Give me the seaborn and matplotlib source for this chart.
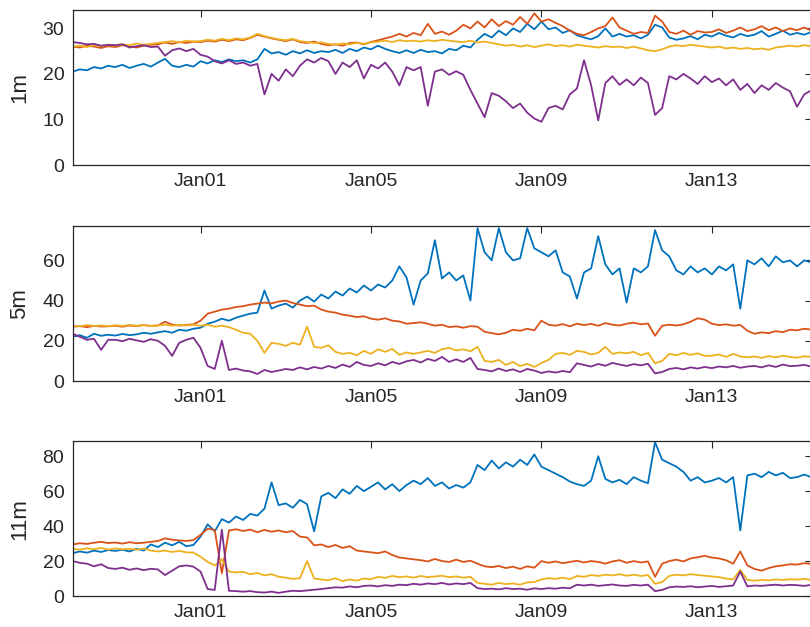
import pandas as pd
import numpy as np
import matplotlib
matplotlib.use('Agg')
import matplotlib.pyplot as plt
import matplotlib.dates as mdates
import seaborn as sns

# time axis: 4-hourly readings starting Dec 29
times = pd.date_range('2019-12-29 00:00', periods=105, freq='4h')

# ---- 1m depth ----
blue_1m = [20.5, 21, 20.8, 21.5, 21.2, 21.8, 21.5, 22, 21.3, 21.8, 22.2, 21.6,
           22.5, 23.3, 21.8, 21.5, 22, 21.6, 22.8, 22.3, 23, 22.6, 23.2, 22.8,
           23, 22.5, 23.2, 25.5, 24.5, 24.8, 24.2, 25, 24.5, 25.2, 24.6, 25,
           24.8, 25.3, 24.6, 25.5, 25, 25.8, 25.4, 26.2, 25.5, 25, 24.6, 25.2,
           24.6, 25.3, 24.8, 25, 24.5, 25.5, 25.2, 26.2, 25.8, 27.5, 28.8, 28,
           29.5, 28.5, 30, 29.2, 31, 29.8, 31.5, 29.8, 30.2, 29, 29.6, 28.5,
           28, 27.6, 28.3, 30, 28.2, 28.8, 28.2, 28.5, 27.8, 28.6, 30.8, 30.2,
           28, 27.5, 27.8, 28.3, 27.6, 28.6, 28.2, 29, 28.4, 28, 28.8, 28.3,
           28.6, 29.4, 28.2, 28.8, 29.5, 28.6, 29, 28.6, 29.2]
orange_1m = [26, 25.8, 26.2, 26, 25.7, 26.1, 25.9, 26.3, 26.1, 25.8, 26.2, 26.4,
             26.5, 26.9, 26.6, 27, 26.8, 27.1, 27, 27.3, 27.1, 27.5, 27.2, 27.6,
             27.4, 27.9, 28.6, 28.2, 27.8, 27.5, 27.2, 27.6, 27, 26.8, 27.1, 26.6,
             26.3, 26.5, 26.2, 26.8, 26.9, 26.5, 27, 27.4, 27.8, 28.2, 28.8, 28.2,
             29, 28.5, 31, 28.8, 29.3, 28.6, 29.5, 30.8, 30, 31.5, 30.2, 32,
             30.5, 31.6, 30.8, 32.5, 31, 33.3, 31.5, 32, 31.2, 30.5, 29.5, 28.8,
             28.5, 29.2, 30, 30.5, 32.4, 30.2, 29.5, 28.8, 29.2, 29, 32.8, 31.5,
             29.2, 28.8, 29.5, 28.6, 29.4, 29.1, 29.2, 29.8, 29, 29.5, 30.2, 29.4,
             29.8, 30.5, 29.6, 30.2, 29.4, 30, 29.6, 30.2, 29.5]
yellow_1m = [26, 26.2, 25.9, 26.3, 26.1, 26.4, 26.2, 26.5, 26.3, 26.7, 26.4, 26.6,
             26.8, 27, 27.2, 26.9, 27.3, 27.1, 27.2, 27.5, 27.3, 27.7, 27.4, 27.8,
             27.6, 28, 28.8, 28.3, 27.9, 27.6, 27.4, 27.7, 27.2, 27, 26.8, 26.9,
             26.6, 26.4, 26.7, 26.5, 26.8, 26.6, 26.9, 27.1, 27.3, 27, 27.4, 27.2,
             27.3, 27.1, 27.4, 27.2, 27.5, 27.3, 27.1, 27, 27.3, 26.9, 27.1, 26.8,
             26.5, 26.2, 26.4, 26, 26.3, 25.9, 26.2, 26.5, 26.1, 26.3, 26, 26.4,
             26.2, 26, 25.8, 26.1, 25.9, 26, 25.7, 26, 25.6, 25.2, 25, 25.4,
             26, 26.3, 26.1, 26.4, 26.2, 26, 25.8, 26, 25.6, 25.8, 25.5, 25.7,
             25.4, 25.6, 25.3, 25.8, 26, 26.2, 26, 26.3, 26.1]
purple_1m = [27, 26.8, 26.5, 26.6, 26.2, 26.4, 26.3, 26.5, 25.8, 26.1, 26.3, 25.9,
             26, 24, 25.2, 25.6, 25, 25.5, 24.2, 23.8, 22.8, 22.3, 23, 22.2,
             22.5, 21.8, 22.2, 15.5, 20, 18.5, 21, 19.5, 21.8, 23.2, 22.5, 23.5,
             22.8, 20, 22.5, 21.5, 23, 19, 22, 21.2, 22.5, 20.5, 17.5, 21.5,
             20.8, 21.5, 13, 20.5, 21, 19.8, 20.6, 19.8, 16.5, 13.5, 10.5, 15.8,
             15.2, 14, 12.5, 13.5, 11.5, 10.2, 9.5, 12.5, 13, 12.2, 15.5, 16.8,
             23, 17.5, 9.8, 18, 19.5, 17.6, 18.8, 17.5, 19.2, 18, 11, 12.5,
             19.5, 18.8, 20, 19, 17.8, 19.5, 18.2, 19, 17.5, 18.8, 16.5, 17.8,
             15.8, 17.5, 16.5, 18, 17, 16.2, 12.8, 15.5, 16.4]

# ---- 5m depth ----
blue_5m = [22, 22.8, 21.5, 23.5, 22.5, 23, 22.6, 23.4, 22.8, 23.2, 24, 23.5,
           24.2, 24.8, 24, 25.5, 25, 26, 26.5, 28.5, 29.5, 31, 30, 31.5,
           32.5, 33.5, 34, 45, 36, 37.5, 38.5, 36.5, 40, 42, 39.5, 43,
           41, 44.5, 42.5, 46, 44, 47.5, 45, 48, 46.5, 50, 57, 51.5,
           38, 50, 53.5, 70, 51, 54, 50, 52.5, 40, 76, 64, 60,
           76, 64, 60, 61, 76, 66, 64, 62, 65, 54, 52, 41,
           54, 56, 72, 58, 53, 56, 39, 56, 54, 57, 75, 65,
           62, 55, 53, 57, 54, 56, 53, 57, 55, 58, 36, 60,
           58, 61, 57, 62, 59, 60, 57, 60, 59]
orange_5m = [27, 27.3, 26.8, 27.4, 27.1, 27.2, 27.5, 27, 27.6, 27.3, 27.8, 27.4,
             27.6, 29.5, 28, 27.6, 27.9, 28.2, 30, 33.5, 34.5, 35.5, 36, 36.8,
             37.2, 38, 38.5, 39, 38.6, 39.5, 40, 38.8, 38, 37.2, 37.5, 35.5,
             34.5, 34, 33, 32.5, 31.8, 32.2, 31, 30.5, 31.2, 30, 29.6, 28.5,
             28.8, 29.2, 28.5, 27.5, 28, 26.8, 27.2, 26.5, 27.3, 27, 24.5, 23.8,
             23.2, 24, 25.5, 25, 26, 25.2, 30, 28, 27.5, 28.3, 27.2, 28.5,
             27.8, 28.4, 27.5, 28.8, 28, 27.6, 28.5, 29, 28.2, 28.6, 22.5, 27.5,
             28, 27.6, 28.2, 29.5, 31.2, 30.5, 28.5, 27.8, 28.2, 27.5, 27.9, 25,
             23.5, 24.2, 23.8, 24.8, 24.3, 25.5, 25.2, 26, 25.6]
yellow_5m = [27.5, 27.2, 27.8, 27.4, 27.6, 27.3, 27.7, 27.4, 27.9, 27.5, 27.8, 27.4,
             27.6, 28, 27.5, 27.9, 27.6, 28, 27.5, 28, 27, 27.5, 26.8, 25.5,
             24, 23.5, 20, 14, 19, 18.5, 17.5, 19, 18, 27, 17, 16.5,
             17.8, 14.5, 13.5, 14, 12.8, 15, 13.5, 15.8, 14.5, 16, 13, 14.2,
             13.5, 14.2, 15, 14, 15.8, 16.5, 15.2, 15.8, 14.8, 17, 10, 9.5,
             10.5, 8, 9.5, 7.5, 8.5, 7, 9, 10.5, 13.5, 14, 13, 15,
             14.5, 13.2, 14, 17, 13.5, 14.2, 13.8, 14.5, 12.8, 14, 8.8, 10,
             13.5, 12.8, 14, 13, 13.8, 12.5, 12.6, 13.2, 12, 13.5, 12.2, 11.8,
             12.2, 11.5, 12.4, 11.8, 12.6, 12, 11.6, 12.3, 12]
purple_5m = [23.5, 22, 20.5, 21, 15.5, 20.5, 20.5, 19.8, 21, 20.2, 19.5, 20.8,
             20, 17.5, 12.5, 19, 20.5, 21.5, 16.5, 7.5, 6, 20, 5.5, 6.2,
             5.2, 4.8, 3.5, 5.5, 4.5, 5.2, 6, 5.5, 6.8, 5.8, 7, 6.2,
             7.5, 6.5, 8.2, 7, 9.5, 8, 7.5, 8.8, 7.8, 9.5, 8.5, 9.8,
             10.5, 9.2, 11, 10, 12, 9.5, 10.8, 9.5, 11.5, 6, 5.5, 4.8,
             6.2, 5, 5.8, 4.5, 6, 5.2, 4, 4.8, 4.2, 5, 4.4, 8.8,
             8, 7.2, 8.5, 7.6, 9, 8.2, 7.5, 8.4, 7.8, 8.6, 3.8, 4.5,
             6, 6.5, 5.8, 6.8, 6.2, 7, 6.4, 7.2, 6.8, 7.5, 6.6, 7.2,
             7.5, 6.8, 7.8, 7, 8.2, 7.4, 7.6, 8, 7.2]

# ---- 11m depth ----
blue_11m = [24.5, 25.5, 24.8, 26, 25.2, 26.3, 25.8, 26.5, 25.5, 27, 26, 29.5,
            28, 30.5, 29, 31, 28.5, 29.2, 34, 41, 37, 44, 42, 45.5,
            43.5, 47, 46, 50, 65, 52, 53, 50.5, 55, 52.5, 37, 57,
            59, 56, 61, 58.5, 63, 60, 62.5, 65, 61, 64, 60, 63.5,
            66, 64, 67.5, 63, 65, 61.5, 63.5, 62, 65, 75, 72, 77.5,
            73, 76.5, 74, 78, 75, 81, 74, 72, 70, 68, 65.5, 64,
            63, 66, 80, 67, 65, 66.5, 64, 68, 66, 64.5, 88, 78,
            76, 74, 71, 66, 68, 65, 66, 67.5, 65, 68, 37.5, 69,
            70, 68, 71, 69, 70.5, 67.5, 68, 69.5, 68]
orange_11m = [29.5, 30.2, 29.8, 30.5, 31, 30.3, 30.6, 30, 30.8, 30.2, 30.5, 31,
              31.5, 33, 32.2, 31.8, 31.5, 32, 35, 38.5, 37.8, 13, 37.5, 38.2,
              37.2, 38, 36.5, 37.8, 36.8, 37.5, 36.5, 37.2, 34, 33.5, 29, 29.5,
              28, 29.2, 27.5, 28.5, 26, 25.5, 25, 24.5, 25.5, 23.5, 22, 21.5,
              21, 20.5, 19.8, 21.2, 20, 19.5, 20.8, 19.5, 20.2, 18.5, 17, 16.5,
              17.2, 16, 16.8, 15.5, 17, 16.2, 20, 19, 19.8, 18.8, 19.5, 20.2,
              19.2, 20, 19.5, 18.5, 19.8, 20.5, 19, 20, 19.2, 19.8, 11, 18.5,
              20, 20.8, 19.8, 21.5, 22.2, 23, 22, 21.5, 20.5, 18.5, 25.5, 17.5,
              15.5, 14.5, 16, 17, 17.5, 18.2, 18, 18.8, 18.4]
yellow_11m = [27, 26.5, 27.3, 26.8, 27.5, 26.6, 27.2, 26.8, 27, 26.5, 27.2, 26,
              25.5, 26, 25.2, 25.8, 25, 24.8, 22.5, 19.5, 17.5, 21, 14, 13.5,
              13.8, 12.5, 13.2, 11.8, 12.5, 11, 10.5, 9.8, 10.2, 20, 10, 9.5,
              9, 10.2, 8.5, 9.5, 8.8, 10, 9.6, 11, 10.4, 11.5, 10.8, 11.2,
              10.5, 11.5, 10.8, 11.2, 11.6, 10.8, 11.2, 10.5, 11, 7.5, 7, 6.5,
              7.5, 6.8, 7.2, 6.5, 7.8, 8, 9.5, 10.2, 9.8, 10.5, 9.6, 11.5,
              11, 12, 11.5, 12.2, 11.8, 12.5, 11.6, 12.2, 11.5, 12, 7, 8,
              11.5, 12.2, 11.8, 12.5, 12, 11.6, 11.2, 10.8, 10, 9.5, 15, 9.2,
              8.8, 9.2, 9, 9.5, 9.2, 9.6, 9.4, 9.8, 9.2]
purple_11m = [20, 19, 18.5, 17, 18.2, 16, 15.5, 16.2, 15, 15.8, 14.8, 15.6,
              15.2, 12, 14.5, 17, 17.5, 16.8, 14, 4, 3.5, 38, 3, 2.8,
              2.5, 2.8, 2.2, 2, 2.5, 1.8, 2.5, 3, 2.8, 3.2, 3.6, 4,
              4.5, 5, 4.8, 5.5, 5, 5.8, 6, 5.5, 6.2, 5.8, 6.5, 6.2,
              7, 6.5, 7.2, 6.8, 7.5, 6.6, 7.2, 6.8, 7.5, 4.5, 4, 4.2,
              3.8, 4.5, 4, 4.2, 3.6, 4.4, 4, 4.5, 4.2, 4.8, 4.4, 6.5,
              6, 6.5, 5.8, 6.2, 6.6, 6, 5.8, 6.4, 6, 6.5, 2.8, 3.5,
              5, 5.4, 5.2, 5.6, 5, 5.4, 5.8, 5.2, 5.6, 6, 14, 5.5,
              6, 5.8, 6.2, 6.5, 6, 6.4, 6.2, 5.8, 6.4]

depth_labels = ['1m', '5m', '11m']
ylims = [(0, 34), (0, 77), (0, 88.6)]
yticks = [[0, 10, 20, 30], [0, 20, 40, 60], [0, 20, 40, 60, 80]]
colors = ['#0072BD', '#D95319', '#EDB120', '#7E2F8E']

sns.set_theme(style='white')
plt.rcParams['font.family'] = ['Liberation Sans', 'DejaVu Sans']
plt.rcParams['xtick.direction'] = 'in'
plt.rcParams['ytick.direction'] = 'in'

fig = plt.figure(figsize=(8.1, 6.27), dpi=100)
bottoms = [0.7368, 0.3923, 0.0494]
left = 72.7 / 810
width = (812 - 72.7) / 810

panels = [
    [blue_1m, orange_1m, yellow_1m, purple_1m],
    [blue_5m, orange_5m, yellow_5m, purple_5m],
    [blue_11m, orange_11m, yellow_11m, purple_11m],
]

for i, series in enumerate(panels):
    ax = fig.add_axes([left, bottoms[i], width, 0.247])
    df = pd.DataFrame({
        'time': np.tile(times, 4),
        'value': np.concatenate(series),
        'series': np.repeat(['a', 'b', 'c', 'd'], len(times)),
    })
    sns.lineplot(data=df, x='time', y='value', hue='series', palette=colors,
                 estimator=None, errorbar=None, legend=False, linewidth=1.3, ax=ax)
    ax.set_xlim(times[0], times[0] + pd.Timedelta(days=17.35))
    ax.set_ylim(*ylims[i])
    ax.set_yticks(yticks[i])
    ax.xaxis.set_major_locator(mdates.DayLocator(bymonthday=[1, 5, 9, 13]))
    ax.xaxis.set_major_formatter(mdates.DateFormatter('%b%d'))
    ax.set_xlabel('')
    ax.set_ylabel(depth_labels[i], fontsize=16, color='#262626')
    ax.yaxis.set_label_coords(-0.058, 0.5)
    ax.tick_params(axis='both', labelsize=14, colors='#262626', length=5,
                   width=0.8, top=True, right=True, pad=6)
    for sp in ax.spines.values():
        sp.set_color('#262626')
        sp.set_linewidth(0.9)

fig.savefig('out.png', dpi=100)
